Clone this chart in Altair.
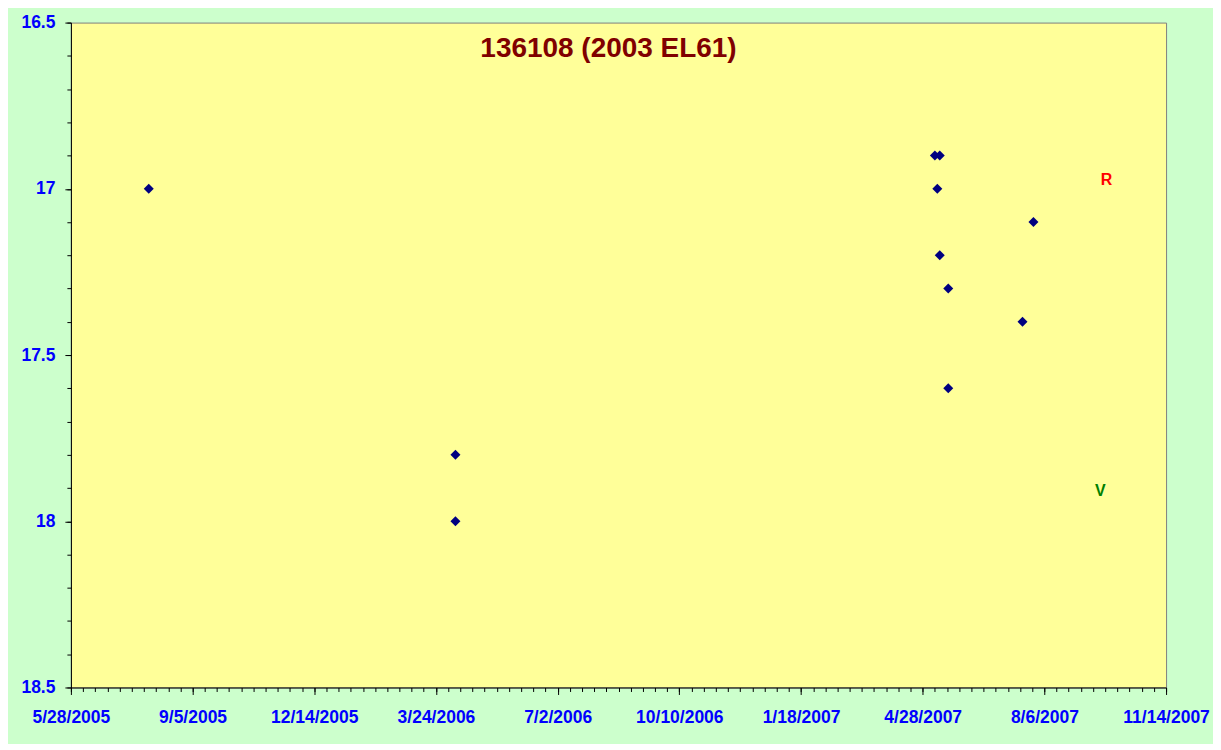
import altair as alt
import pandas as pd
from datetime import date, timedelta

# ---- data ----
obs_dates = ["2005-07-31", "2006-04-09", "2006-04-09", "2007-05-08", "2007-05-12",
             "2007-05-10", "2007-05-12", "2007-05-19", "2007-05-19", "2007-07-19",
             "2007-07-28"]
obs_mag = [17.0, 17.8, 18.0, 16.9, 16.9, 17.0, 17.2, 17.3, 17.6, 17.4, 17.1]

band_labels = ["R", "V"]
band_dates = ["2007-09-26", "2007-09-21"]
band_mag = [16.975, 17.91]
band_colors = ["#FF0000", "#008000"]

x_tick_labels = ["5/28/2005", "9/5/2005", "12/14/2005", "3/24/2006", "7/2/2006",
                 "10/10/2006", "1/18/2007", "4/28/2007", "8/6/2007", "11/14/2007"]
y_tick_values = [16.5, 17.0, 17.5, 18.0, 18.5]

title_text = "136108 (2003 EL61)"

# ---- derived tables ----
pts = pd.DataFrame({"date": obs_dates, "mag": obs_mag})
bands = pd.DataFrame({"date": band_dates, "mag": band_mag, "band": band_labels,
                      "color": band_colors})


def to_dt(d):
    return alt.DateTime(year=d.year, month=d.month, date=d.day, utc=True)


def parse_label(s):
    m, d, y = (int(v) for v in s.split("/"))
    return date(y, m, d)


major_dates = [parse_label(s) for s in x_tick_labels]
x_major = [to_dt(d) for d in major_dates]
x_minor = [to_dt(major_dates[0] + timedelta(days=10 * i))
           for i in range(int((major_dates[-1] - major_dates[0]).days / 10) + 1)]
y_minor = [round(y_tick_values[0] + 0.1 * i, 1) for i in range(21)]

x_scale = alt.Scale(type="utc", domain=[x_major[0], x_major[-1]], nice=False)
y_scale = alt.Scale(domain=[y_tick_values[0], y_tick_values[-1]], reverse=True,
                    nice=False, zero=False)

LABEL_FONT = "Liberation Sans"

minor = alt.Chart(pts).mark_point(opacity=0).encode(
    x=alt.X("date:T", scale=x_scale,
            axis=alt.Axis(orient="bottom", values=x_minor, labels=False, domain=False,
                          tickSize=4, tickColor="black", title=None, grid=False)),
    y=alt.Y("mag:Q", scale=y_scale,
            axis=alt.Axis(orient="left", values=y_minor, labels=False, domain=False,
                          tickSize=4, tickColor="black", title=None, grid=False)),
)

main = alt.Chart(pts).mark_point(shape="diamond", filled=True, color="#000080",
                                 size=100, opacity=1).encode(
    x=alt.X("date:T", scale=x_scale,
            axis=alt.Axis(orient="bottom", values=x_major, tickSize=7,
                          labelExpr="utcFormat(datum.value, '%-m/%-d/%Y')",
                          labelPadding=14, labelFlush=False, labelOverlap=False,
                          labelBound=False, title=None, grid=False)),
    y=alt.Y("mag:Q", scale=y_scale,
            axis=alt.Axis(orient="left", values=y_tick_values, tickSize=6, format="~g",
                          labelPadding=10, labelFlush=False, labelOverlap=False,
                          title=None, grid=False)),
)

text = alt.Chart(bands).mark_text(font=LABEL_FONT, fontWeight="bold", fontSize=16,
                                  align="center", baseline="middle").encode(
    x=alt.X("date:T", scale=x_scale, axis=None),
    y=alt.Y("mag:Q", scale=y_scale, axis=None),
    text="band:N",
    color=alt.Color("color:N", scale=None),
)

chart = alt.layer(minor, main, text).resolve_axis(
    x="independent", y="independent"
).properties(
    width=1097,
    height=666,
    autosize=alt.AutoSizeParams(type="none"),
    padding={"left": 63, "top": 14, "right": 47, "bottom": 56},
    background="#CCFFCC",
    title=alt.TitleParams(title_text, font=LABEL_FONT, fontSize=28, fontWeight="bold",
                          color="#800000", anchor="middle", frame="group",
                          baseline="alphabetic", offset=-71, dx=-10),
).configure_view(
    fill="#FFFF99", stroke="#808080", strokeWidth=1
).configure_axis(
    labelFont=LABEL_FONT, labelFontSize=17.5, labelFontWeight="bold",
    labelColor="#0000FF", domainColor="black", domainWidth=1, tickColor="black",
    tickWidth=1,
)

chart.save("out.html", embed_options={"renderer": "svg", "actions": False})
